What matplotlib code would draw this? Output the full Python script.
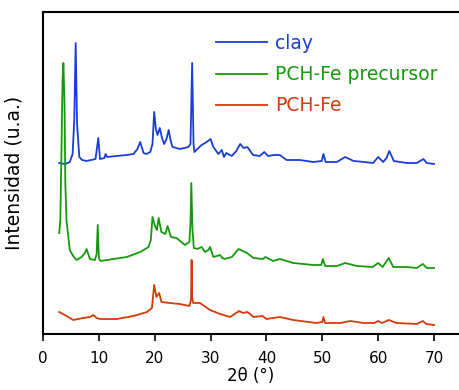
"""XRD patterns: clay, PCH-Fe precursor and PCH-Fe"""

import matplotlib
matplotlib.use("Agg")
import matplotlib.pyplot as plt

# 2theta / intensity (a.u., already offset as drawn)
clay_x = [2.9, 4.0, 4.8, 5.3, 5.6, 5.85, 6.1, 6.5, 7.0, 7.8, 9.4, 9.9, 10.2,
          11.0, 11.2, 11.5, 13.2, 15.0, 16.2, 16.9, 17.4, 18.0, 18.5, 19.2,
          19.6, 19.9, 20.2, 20.5, 20.9, 21.3, 21.7, 22.1, 22.5, 22.9, 23.2,
          24.5, 25.3, 26.0, 26.4, 26.7, 26.95, 27.1, 27.8, 28.4, 29.3, 30.0,
          30.5, 31.4, 32.0, 32.4, 32.8, 33.8, 34.6, 35.3, 35.9, 36.6, 37.6,
          38.8, 39.6, 40.3, 41.4, 42.4, 43.6, 46.0, 48.4, 49.9, 50.2, 50.6,
          52.6, 54.1, 55.6, 57.5, 59.1, 60.0, 60.9, 61.5, 62.0, 62.8, 65.1,
          66.9, 68.1, 68.7, 70.0]
clay_y = [171, 170, 172, 180, 215, 291, 210, 177, 174, 173, 175, 196, 175,
          176, 180, 177, 178, 179, 180, 185, 192, 181, 180, 182,
          190, 222, 205, 199, 206, 196, 190, 195, 204, 192, 187,
          185, 186, 187, 190, 271, 190, 182, 186, 189, 192, 195,
          187, 180, 184, 177, 181, 178, 183, 190, 186, 187, 179,
          178, 182, 178, 179, 179, 174, 174, 172, 173, 180, 172,
          172, 177, 173, 172, 171, 177, 172, 176, 183, 173, 171,
          171, 175, 171, 170]

prec_x = [2.9, 3.1, 3.3, 3.5, 3.65, 3.85, 4.0, 4.2, 4.8, 5.4, 6.0, 6.9, 7.5,
          7.8, 8.4, 9.3, 9.6, 9.8, 10.0, 10.3, 12.6, 15.0, 17.4, 18.9, 19.3,
          19.6, 20.0, 20.4, 20.7, 21.2, 21.9, 22.3, 22.9, 23.9, 25.4, 26.2,
          26.4, 26.55, 26.75, 27.0, 27.6, 28.4, 29.0, 29.6, 29.9, 30.5, 31.7,
          32.1, 32.5, 33.8, 35.0, 36.5, 37.7, 39.4, 39.8, 41.2, 42.4, 44.8,
          48.4, 49.8, 50.1, 50.5, 52.6, 54.1, 56.2, 59.0, 60.0, 60.8, 61.9,
          62.7, 65.1, 66.9, 68.0, 68.7, 70.0]
prec_y = [101, 114, 180, 255, 271, 230, 150, 114, 84, 78, 74, 77, 81,
          85, 75, 74, 80, 109, 76, 73, 75, 77, 82, 87, 94,
          117, 109, 104, 116, 102, 100, 108, 97, 96, 89, 92,
          110, 151, 105, 86, 85, 87, 82, 84, 87, 77, 79,
          76, 75, 77, 85, 81, 76, 75, 77, 73, 75, 71,
          69, 69, 75, 68, 68, 71, 68, 67, 71, 67, 76,
          67, 67, 66, 70, 66, 66]

fe_x = [2.9, 3.9, 5.4, 7.2, 8.4, 9.0, 9.6, 10.2, 13.2, 16.2, 18.6, 19.5, 19.9,
        20.3, 20.8, 21.2, 22.7, 24.5, 26.2, 26.5, 26.6, 26.7, 26.9, 28.1,
        29.9, 31.7, 33.5, 35.1, 35.8, 36.6, 37.7, 39.3, 40.0, 42.4, 44.8,
        48.9, 50.0, 50.2, 50.5, 53.2, 55.0, 57.4, 59.3, 60.0, 60.7, 61.9,
        63.3, 66.9, 68.0, 68.6, 70.0]
fe_y = [22, 19, 14, 16, 17, 19, 16, 15, 15, 18, 22, 26, 49,
        37, 41, 32, 31, 30, 28, 34, 74, 36, 31, 31,
        24, 20, 17, 23, 21, 22, 17, 18, 15, 17, 14,
        11, 12, 17, 11, 11, 13, 11, 11, 13, 11, 14,
        11, 10, 13, 10, 9]

labels = ["clay", "PCH-Fe precursor", "PCH-Fe"]
colors = ["#1a3dd6", "#159a0c", "#d43a0a"]

plt.rcParams['font.family'] = ['DejaVu Sans']

fig = plt.figure(figsize=(4.59, 3.90), dpi=100)
ax = fig.add_axes([43 / 459, 56 / 390, 1 - 43 / 459, 322 / 390])

for xs, ys, lab, col in zip([clay_x, prec_x, fe_x], [clay_y, prec_y, fe_y],
                            labels, colors):
    ax.plot(xs, ys, color=col, linewidth=1.3, label=lab)

ax.set_xlim(0, 74.47)
ax.set_ylim(0, 322)
ax.set_xticks(range(0, 80, 10))
ax.set_yticks([])
ax.tick_params(axis='x', direction='out', length=5, width=1.2,
               labelsize=11, pad=7)
for side in ['left', 'top', 'bottom']:
    ax.spines[side].set_linewidth(1.5)
ax.spines['right'].set_visible(False)

ax.set_xlabel("2θ (°)", fontsize=12, labelpad=1)
ax.set_ylabel("Intensidad (u.a.)", fontsize=13.5, labelpad=14)

leg = ax.legend(loc='upper left', bbox_to_anchor=(0.375, 0.985),
                frameon=False, fontsize=13.5, handlelength=2.75,
                handletextpad=0.4, labelspacing=0.66)
for txt, col in zip(leg.get_texts(), colors):
    txt.set_color(col)
for line in leg.get_lines():
    line.set_linewidth(1.3)

fig.savefig("out.png", dpi=100)
